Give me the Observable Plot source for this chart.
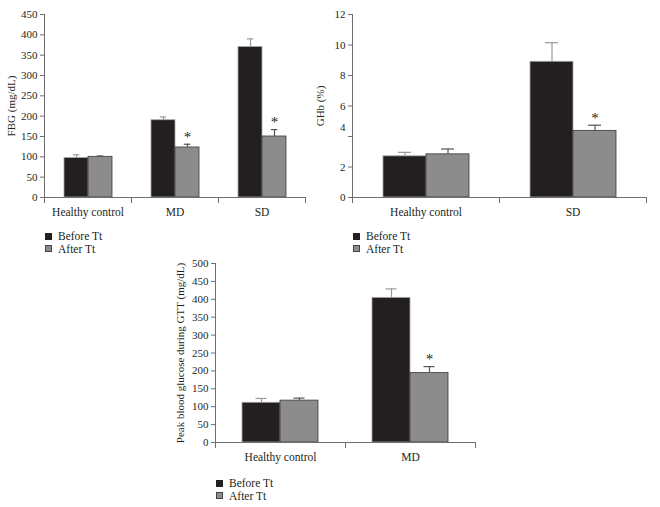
<!DOCTYPE html>
<html><head><meta charset="utf-8">
<script src="https://cdn.jsdelivr.net/npm/d3@7"></script>
<script src="https://cdn.jsdelivr.net/npm/@observablehq/plot@0.6"></script>
<style>
body{margin:0;background:#fff;}
#root{position:relative;width:660px;height:507px;overflow:hidden;font-family:"Liberation Serif","DejaVu Serif",serif;color:#231f20;}
.panel{position:absolute;}
.legend{position:absolute;font-size:11.5px;line-height:12.5px;}
.legend .item{display:flex;align-items:center;height:12.5px;white-space:nowrap;}
.sw{display:inline-block;width:7px;height:7px;margin-right:6px;box-sizing:border-box;border:1px solid #333;}
</style></head><body><div id="root"></div>
<script>
// ---- series ----
const seriesNames = ["Before Tt", "After Tt"];
const seriesFill = ["#231f20", "#8c8c8c"];
const seriesStroke = ["#a5a5a5", "#3a3a3a"];
const errorStroke = ["#9a9a9a", "#555555"];

// ---- Panel A: fasting blood glucose ----
const fbgCategories = ["Healthy control", "MD", "SD"];
const fbgBefore = [97, 190, 370];
const fbgBeforeSE = [8, 8, 20];
const fbgAfter = [100, 123, 150];
const fbgAfterSE = [2, 8, 17];
const fbgSignificant = [false, true, true];
const fbgTicks = [0, 50, 100, 150, 200, 250, 300, 350, 400, 450];
const fbgLabel = "FBG (mg/dL)";

// ---- Panel B: glycated haemoglobin ----
const ghbCategories = ["Healthy control", "SD"];
const ghbBefore = [2.7, 8.9];
const ghbBeforeSE = [0.26, 1.25];
const ghbAfter = [2.83, 4.37];
const ghbAfterSE = [0.35, 0.37];
const ghbSignificant = [false, true];
const ghbTicks = [0, 2, 4, 6, 8, 10, 12];
const ghbRaisedTicks = [4];
const ghbLabel = "GHb (%)";

// ---- Panel C: peak glucose during GTT ----
const gttCategories = ["Healthy control", "MD"];
const gttBefore = [111, 404];
const gttBeforeSE = [12, 25];
const gttAfter = [117, 194];
const gttAfterSE = [7, 18];
const gttSignificant = [false, true];
const gttTicks = [0, 50, 100, 150, 200, 250, 300, 350, 400, 450, 500];
const gttLabel = "Peak blood glucose during GTT (mg/dL)";

const axisColor = "#6d6e71";
const root = document.getElementById("root");

function makePanel(cfg) {
  const rows = cfg.cats.flatMap((c, i) => [
    {group: c, series: seriesNames[0], value: cfg.before[i], upper: cfg.before[i] + cfg.beforeSE[i], sig: false},
    {group: c, series: seriesNames[1], value: cfg.after[i], upper: cfg.after[i] + cfg.afterSE[i], sig: cfg.sig[i]}
  ]);
  const plotH = cfg.height - cfg.mt - cfg.mb;
  const raised = cfg.raised || [];
  const marks = [];
  seriesNames.forEach((s, k) => {
    const sub = rows.filter(d => d.series === s);
    marks.push(Plot.barY(sub, {fx: "group", x: "series", y: "value", fill: seriesFill[k], stroke: seriesStroke[k], strokeWidth: 0.8}));
    marks.push(Plot.ruleX(sub, {fx: "group", x: "series", y1: "value", y2: "upper", stroke: errorStroke[k], strokeWidth: 1.2}));
    marks.push(Plot.tickY(sub, {fx: "group", x: "series", y: "upper", stroke: errorStroke[k], strokeWidth: 1.2, insetLeft: cfg.cap, insetRight: cfg.cap}));
  });
  marks.push(Plot.text(rows.filter(d => d.sig), {fx: "group", x: "series", y: "upper", text: () => "*", dy: -7, fontSize: 15, fill: "#231f20"}));
  marks.push(Plot.ruleY([0], {stroke: axisColor}));
  marks.push(Plot.frame({anchor: "left", insetTop: plotH, insetBottom: -5, stroke: axisColor}));
  marks.push(Plot.frame({anchor: "right", insetTop: plotH, insetBottom: -5, stroke: axisColor}));
  marks.push(Plot.frame({anchor: "left", facetAnchor: "left", stroke: axisColor}));
  marks.push(Plot.axisY({ticks: cfg.ticks, tickSize: 4, tickPadding: 3, stroke: axisColor, fill: "#231f20",
    tickFormat: d => raised.includes(d) ? "" : String(d),
    label: cfg.label, labelAnchor: "center", labelOffset: cfg.labelOffset, labelArrow: "none", fontSize: 11}));
  if (raised.length) {
    marks.push(Plot.axisY({ticks: raised, tickSize: 0, tickPadding: 7, dy: -9, fill: "#231f20", label: null, fontSize: 11}));
  }
  marks.push(Plot.axisFx({anchor: "bottom", tickSize: 0, tickPadding: 10, label: null, fontSize: 11.5, fill: "#231f20"}));

  const chart = Plot.plot({
    width: cfg.width, height: cfg.height,
    marginTop: cfg.mt, marginRight: cfg.mr, marginBottom: cfg.mb, marginLeft: cfg.ml,
    style: {background: "transparent", fontFamily: "'Liberation Serif','DejaVu Serif',serif", fontSize: "11px", color: "#231f20", overflow: "visible"},
    fx: {domain: cfg.cats, padding: 0, label: null},
    x: {domain: seriesNames, paddingInner: 0, paddingOuter: cfg.outer, axis: null},
    y: {domain: [0, cfg.ticks[cfg.ticks.length - 1]], label: null},
    marks
  });
  const wrap = document.createElement("div");
  wrap.className = "panel";
  wrap.style.left = cfg.left + "px";
  wrap.style.top = cfg.top + "px";
  wrap.appendChild(chart);
  root.appendChild(wrap);

  const lg = document.createElement("div");
  lg.className = "legend";
  lg.style.left = cfg.legendLeft + "px";
  lg.style.top = cfg.legendTop + "px";
  seriesNames.forEach((s, k) => {
    const it = document.createElement("div");
    it.className = "item";
    const sw = document.createElement("span");
    sw.className = "sw";
    sw.style.background = seriesFill[k];
    sw.style.borderColor = k === 0 ? seriesFill[k] : "#444";
    it.appendChild(sw);
    it.appendChild(document.createTextNode(s));
    lg.appendChild(it);
  });
  root.appendChild(lg);
}

makePanel({cats: fbgCategories, before: fbgBefore, beforeSE: fbgBeforeSE, after: fbgAfter, afterSE: fbgAfterSE,
  sig: fbgSignificant, ticks: fbgTicks, label: fbgLabel,
  left: 0, top: 0, width: 330, height: 226, mt: 14, mr: 25, mb: 29, ml: 43,
  outer: 0.78, cap: 8.75, labelOffset: 37, legendLeft: 45, legendTop: 230});

makePanel({cats: ghbCategories, before: ghbBefore, beforeSE: ghbBeforeSE, after: ghbAfter, afterSE: ghbAfterSE,
  sig: ghbSignificant, ticks: ghbTicks, raised: ghbRaisedTicks, label: ghbLabel,
  left: 310, top: 0, width: 350, height: 226, mt: 14, mr: 14, mb: 29, ml: 42,
  outer: 0.7, cap: 15, labelOffset: 36, legendLeft: 353, legendTop: 230});

makePanel({cats: gttCategories, before: gttBefore, beforeSE: gttBeforeSE, after: gttAfter, afterSE: gttAfterSE,
  sig: gttSignificant, ticks: gttTicks, label: gttLabel,
  left: 150, top: 250, width: 340, height: 221, mt: 13, mr: 15, mb: 29, ml: 65,
  outer: 0.69, cap: 13.5, labelOffset: 39, legendLeft: 216, legendTop: 477});
</script></body></html>
